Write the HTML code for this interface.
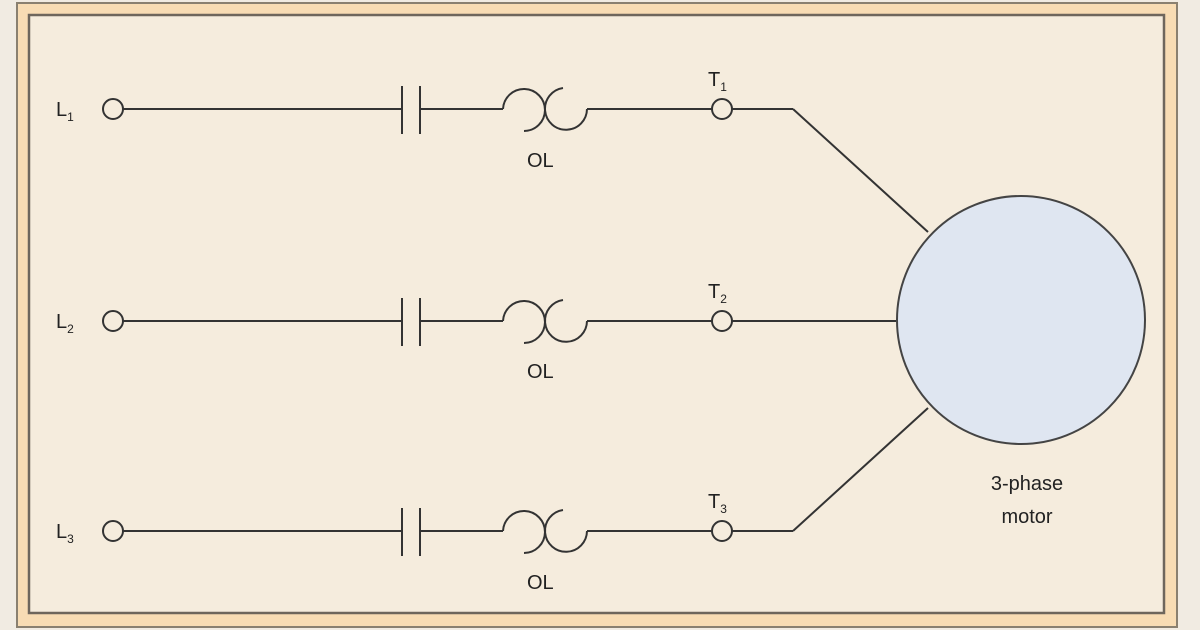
<!DOCTYPE html>
<html><head><style>
html,body{margin:0;padding:0;background:#f3ece0;}
svg{display:block}
text{font-family:"Liberation Sans",sans-serif;fill:#222;}
</style></head><body>
<svg width="1200" height="630" viewBox="0 0 1200 630">
<rect x="0" y="0" width="1200" height="630" fill="#f1ebe2"/>
<rect x="17" y="3" width="1160" height="624" fill="#f8dcb4" stroke="#8a8070" stroke-width="2"/>
<rect x="29" y="15" width="1135" height="598" fill="#f5ecdd" stroke="#6e665c" stroke-width="2.5"/>
<g stroke="#333" stroke-width="2" fill="none">
  <g id="r1">
    <circle cx="113" cy="109" r="10"/>
    <line x1="123" y1="109" x2="402" y2="109"/>
    <line x1="402" y1="86" x2="402" y2="134"/>
    <line x1="420" y1="86" x2="420" y2="134"/>
    <line x1="420" y1="109" x2="503" y2="109"/>
    <path d="M503 109 A21 21 0 1 1 524 131"/>
    <path d="M563 88 A21 21 0 1 0 587 109"/>
    <line x1="587" y1="109" x2="712" y2="109"/>
    <circle cx="722" cy="109" r="10"/>
    <line x1="732" y1="109" x2="793" y2="109"/>
  </g>
  <use href="#r1" y="212"/>
  <use href="#r1" y="422"/>
  <line x1="793" y1="109" x2="928" y2="232"/>
  <line x1="732" y1="321" x2="896" y2="321"/>
  <line x1="793" y1="531" x2="928" y2="408"/>
  <circle cx="1021" cy="320" r="124" fill="#dfe6f1" stroke="#444"/>
</g>
<g font-size="20">
  <text x="56" y="116">L<tspan font-size="12" dy="5">1</tspan></text>
  <text x="56" y="328">L<tspan font-size="12" dy="5">2</tspan></text>
  <text x="56" y="538">L<tspan font-size="12" dy="5">3</tspan></text>
  <text x="708" y="86">T<tspan font-size="12" dy="5">1</tspan></text>
  <text x="708" y="298">T<tspan font-size="12" dy="5">2</tspan></text>
  <text x="708" y="508">T<tspan font-size="12" dy="5">3</tspan></text>
  <text x="527" y="167">OL</text>
  <text x="527" y="378">OL</text>
  <text x="527" y="589">OL</text>
  <text x="1027" y="490" text-anchor="middle">3-phase</text>
  <text x="1027" y="523" text-anchor="middle">motor</text>
</g>
</svg>
</body></html>
